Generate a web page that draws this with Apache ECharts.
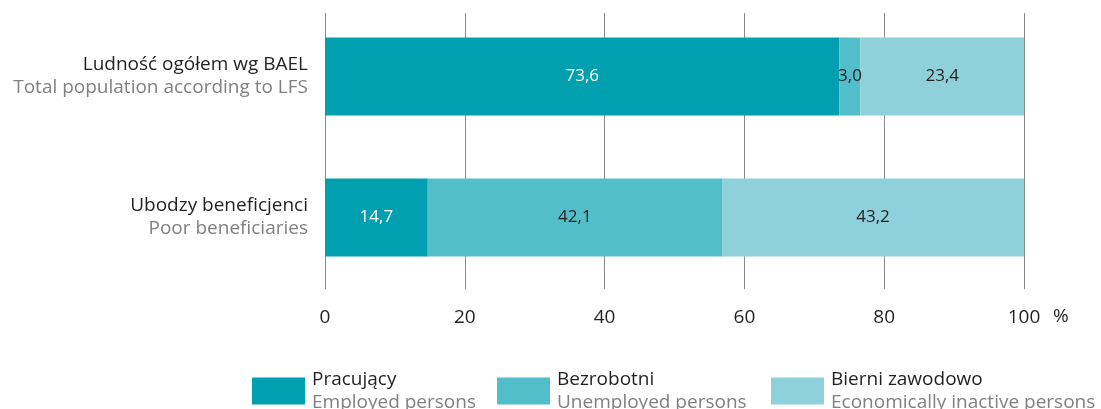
<!DOCTYPE html>
<html>
<head>
<meta charset="utf-8">
<script src="https://cdn.jsdelivr.net/npm/echarts@6/dist/echarts.min.js"></script>
<style>
  html, body { margin: 0; padding: 0; background: #fff; }
  #chart { width: 1101px; height: 409px; }
</style>
</head>
<body>
<div id="chart"></div>
<script>
// kategorie (wiersze)
const categoriesPl = ['Ludność ogółem wg BAEL', 'Ubodzy beneficjenci']
const categoriesEn = ['Total population according to LFS', 'Poor beneficiaries']

// serie
const seriesPl = ['Pracujący', 'Bezrobotni', 'Bierni zawodowo']
const seriesEn = ['Employed persons', 'Unemployed persons', 'Economically inactive persons']

const employed = [73.6, 14.7]
const unemployed = [3.0, 42.1]
const inactive = [23.4, 43.2]

const ticks = [0, 20, 40, 60, 80, 100]

const colors = ['#00a0b0', '#52bec9', '#8ed1da']
const labelColors = ['#ffffff', '#231f20', '#231f20']
const font = 'Open Sans'

let myChart = echarts.init(document.getElementById('chart'))

const values = [employed, unemployed, inactive]

let series = seriesPl.map(function (name, i) {
  return {
    name: name,
    type: 'bar',
    stack: 'total',
    xAxisIndex: 0,
    yAxisIndex: 0,
    barWidth: 78,
    itemStyle: { color: colors[i] },
    label: {
      show: true,
      position: 'inside',
      color: labelColors[i],
      fontFamily: font,
      fontSize: 17,
      formatter: function (p) { return p.value.toFixed(1).replace('.', ',') }
    },
    data: values[i]
  }
})

let legendLefts = [252, 497, 771]
let legends = seriesPl.map(function (name, i) {
  return {
    data: [name],
    left: legendLefts[i],
    top: 370,
    padding: 0,
    itemWidth: 53,
    itemHeight: 27,
    itemGap: 0,
    icon: 'rect',
    formatter: function (n) {
      return '{a|' + n + '}\n{b|' + seriesEn[seriesPl.indexOf(n)] + '}'
    },
    textStyle: {
      padding: [0, 0, 0, 2],
      rich: {
        a: { fontFamily: font, fontSize: 19, color: '#231f20', lineHeight: 23 },
        b: { fontFamily: font, fontSize: 19, color: '#808080', lineHeight: 23 }
      }
    }
  }
})

let option = {
  animation: false,
  backgroundColor: '#ffffff',
  grid: [
    { left: 325, width: 699, top: 6, height: 282 },
    { left: 325, width: 699, top: 13, height: 276 }
  ],
  legend: legends,
  graphic: [{
    type: 'text',
    left: 1053,
    top: 307,
    style: { text: '%', fontFamily: font, fontSize: 19, fill: '#231f20' }
  }],
  xAxis: [
    {
      gridIndex: 0,
      type: 'value',
      min: 0,
      max: 100,
      show: false
    },
    {
      gridIndex: 1,
      type: 'value',
      min: ticks[0],
      max: ticks[ticks.length - 1],
      interval: 20,
      axisLine: { show: false },
      axisTick: { show: false },
      axisLabel: {
        margin: 19,
        fontFamily: font,
        fontSize: 19,
        color: '#231f20'
      },
      splitLine: { show: true, lineStyle: { color: '#8a8a8a', width: 1 } }
    }
  ],
  yAxis: [
    {
      gridIndex: 0,
      type: 'category',
      inverse: true,
      data: categoriesPl,
      axisLine: { show: false },
      axisTick: { show: false },
      axisLabel: {
        margin: 17,
        align: 'right',
        formatter: function (v) {
          return '{a|' + v + '}\n{b|' + categoriesEn[categoriesPl.indexOf(v)] + '}'
        },
        rich: {
          a: { fontFamily: font, fontSize: 19, color: '#231f20', lineHeight: 23, align: 'right' },
          b: { fontFamily: font, fontSize: 19, color: '#808080', lineHeight: 23, align: 'right' }
        }
      }
    },
    {
      gridIndex: 1,
      type: 'category',
      data: categoriesPl,
      show: false
    }
  ],
  series: series
}

myChart.setOption(option)
</script>
</body>
</html>
